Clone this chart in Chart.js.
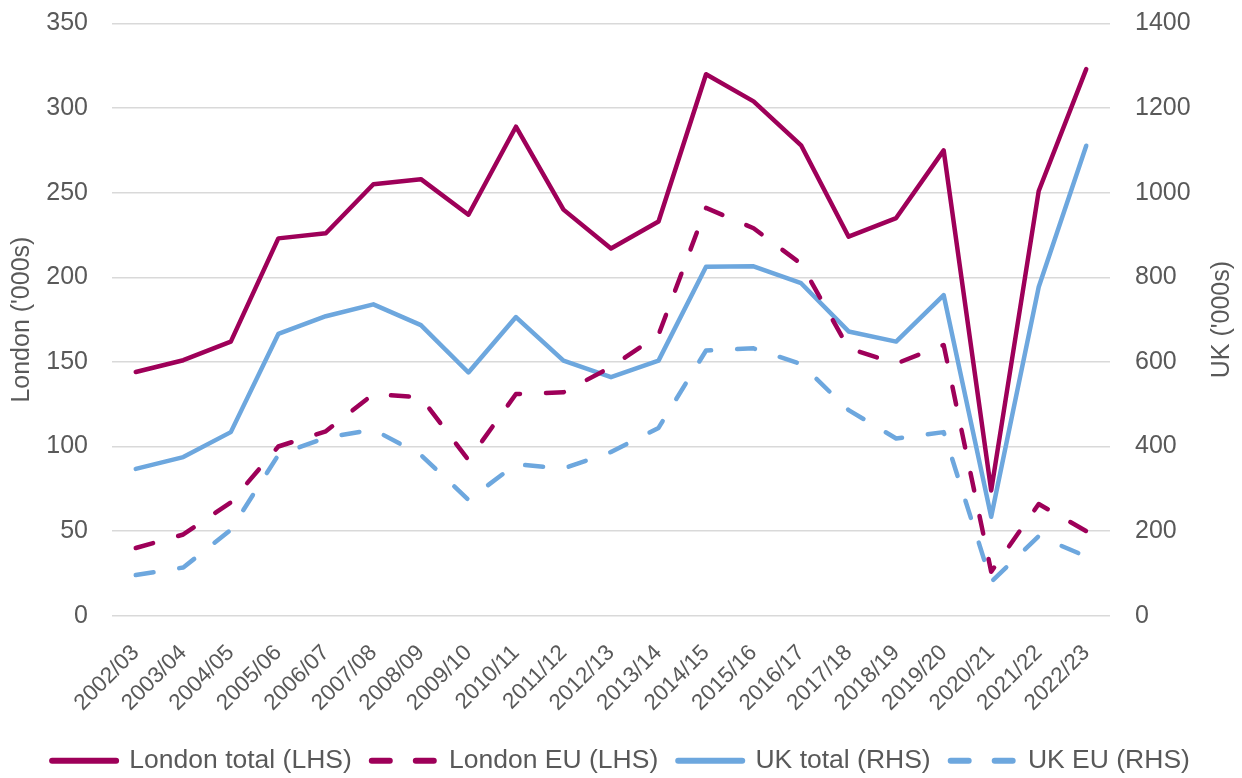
<!DOCTYPE html>
<html>
<head>
<meta charset="utf-8">
<script src="https://cdn.jsdelivr.net/npm/chart.js@4.4.1/dist/chart.umd.min.js"></script>
<style>
  html, body { margin: 0; padding: 0; background: #ffffff; overflow: hidden; }
  #wrap { width: 1242px; height: 778px; }
</style>
</head>
<body>
<div id="wrap"><canvas id="c" width="1242" height="778"></canvas></div>
<script>
const categories = ['2002/03','2003/04','2004/05','2005/06','2006/07','2007/08','2008/09','2009/10','2010/11','2011/12','2012/13','2013/14','2014/15','2015/16','2016/17','2017/18','2018/19','2019/20','2020/21','2021/22','2022/23'];
const londonTotal = [144, 151, 162, 223, 226, 255, 258, 237, 289, 240, 217, 233, 320, 304, 278, 224, 235, 275, 74, 251, 323];
const londonEU    = [40, 48, 67, 100, 109, 131, 129, 92, 131, 132, 147, 166, 241, 229, 208, 158, 149, 160, 26, 66, 50];
const ukTotal     = [347, 375, 434, 666, 708, 736, 687, 575, 706, 603, 564, 603, 825, 826, 786, 672, 648, 758, 234, 777, 1111];
const ukEU        = [96, 114, 203, 380, 421, 440, 380, 274, 358, 348, 387, 444, 627, 632, 595, 486, 419, 434, 80, 188, 140];
const leftTicks  = [0, 50, 100, 150, 200, 250, 300, 350];
const rightTicks = [0, 200, 400, 600, 800, 1000, 1200, 1400];

const MAROON = '#9E0059';
const BLUE = '#6DA7DE';
const TEXT = '#595959';
const FONT = "'Liberation Sans', Arial, sans-serif";

const rightTitle = {
  id: 'rightTitle',
  afterDraw(chart) {
    const ctx = chart.ctx;
    const area = chart.chartArea;
    ctx.save();
    ctx.translate(1222, (area.top + area.bottom) / 2);
    ctx.rotate(-Math.PI / 2);
    ctx.font = "25px " + FONT;
    ctx.fillStyle = TEXT;
    ctx.textAlign = 'center';
    ctx.textBaseline = 'middle';
    ctx.fillText("UK ('000s)", 0, 0);
    ctx.restore();
  }
};

const common = {
  fill: false, pointRadius: 0, pointHoverRadius: 0, tension: 0,
  borderWidth: 4.5, borderCapStyle: 'round', borderJoinStyle: 'round'
};

new Chart(document.getElementById('c'), {
  type: 'line',
  data: {
    labels: categories,
    datasets: [
      Object.assign({ label: 'London total (LHS)', data: londonTotal, borderColor: MAROON, backgroundColor: MAROON, yAxisID: 'y' }, common),
      Object.assign({ label: 'London EU (LHS)', data: londonEU, borderColor: MAROON, backgroundColor: MAROON, borderDash: [18, 26], yAxisID: 'y' }, common),
      Object.assign({ label: 'UK total (RHS)', data: ukTotal, borderColor: BLUE, backgroundColor: BLUE, yAxisID: 'y1' }, common),
      Object.assign({ label: 'UK EU (RHS)', data: ukEU, borderColor: BLUE, backgroundColor: BLUE, borderDash: [18, 26], yAxisID: 'y1' }, common)
    ]
  },
  options: {
    responsive: false,
    animation: false,
    devicePixelRatio: 1,
    layout: { padding: { top: 23.5, bottom: -6, left: 0, right: 0 } },
    plugins: {
      tooltip: { enabled: false },
      legend: {
        position: 'bottom',
        labels: {
          usePointStyle: true,
          pointStyle: 'line',
          pointStyleWidth: 64,
          padding: 20,
          color: TEXT,
          font: { family: FONT, size: 26.5 },
          generateLabels(chart) {
            const items = Chart.defaults.plugins.legend.labels.generateLabels(chart);
            items.forEach(it => {
              const ds = chart.data.datasets[it.datasetIndex];
              it.lineWidth = 6;
              it.pointStyle = 'line';
              it.lineCap = 'round';
              it.lineDash = ds.borderDash || [];
              it.lineDashOffset = 0;
              it.strokeStyle = ds.borderColor;
              it.fillStyle = ds.borderColor;
            });
            return items;
          }
        }
      }
    },
    scales: {
      x: {
        offset: true,
        grid: { display: false },
        border: { display: false },
        ticks: {
          autoSkip: false, maxRotation: 45, minRotation: 45,
          padding: 16, color: TEXT, font: { family: FONT, size: 22.5 }
        },
        afterFit(s) { s.height = 111.8; }
      },
      y: {
        position: 'left',
        min: leftTicks[0], max: leftTicks[leftTicks.length - 1],
        afterBuildTicks(s) { s.ticks = leftTicks.map(v => ({ value: v })); },
        grid: { color: '#D9D9D9', lineWidth: 1.5, drawTicks: true, tickLength: 24, tickColor: 'rgba(0,0,0,0)' },
        border: { display: false },
        ticks: { padding: 0, color: TEXT, font: { family: FONT, size: 25 }, callback: v => String(v) },
        title: { display: true, text: "London ('000s)", color: TEXT, font: { family: FONT, size: 25 }, padding: { top: 7, bottom: 0 } },
        afterFit(s) { s.width = 112; }
      },
      y1: {
        position: 'right',
        min: rightTicks[0], max: rightTicks[rightTicks.length - 1],
        afterBuildTicks(s) { s.ticks = rightTicks.map(v => ({ value: v })); },
        grid: { drawOnChartArea: false, drawTicks: true, tickLength: 25, tickColor: 'rgba(0,0,0,0)' },
        border: { display: false },
        ticks: { padding: 0, color: TEXT, font: { family: FONT, size: 25 }, callback: v => String(v) },
        afterFit(s) { s.width = 132; }
      }
    }
  },
  plugins: [rightTitle]
});
</script>
</body>
</html>
